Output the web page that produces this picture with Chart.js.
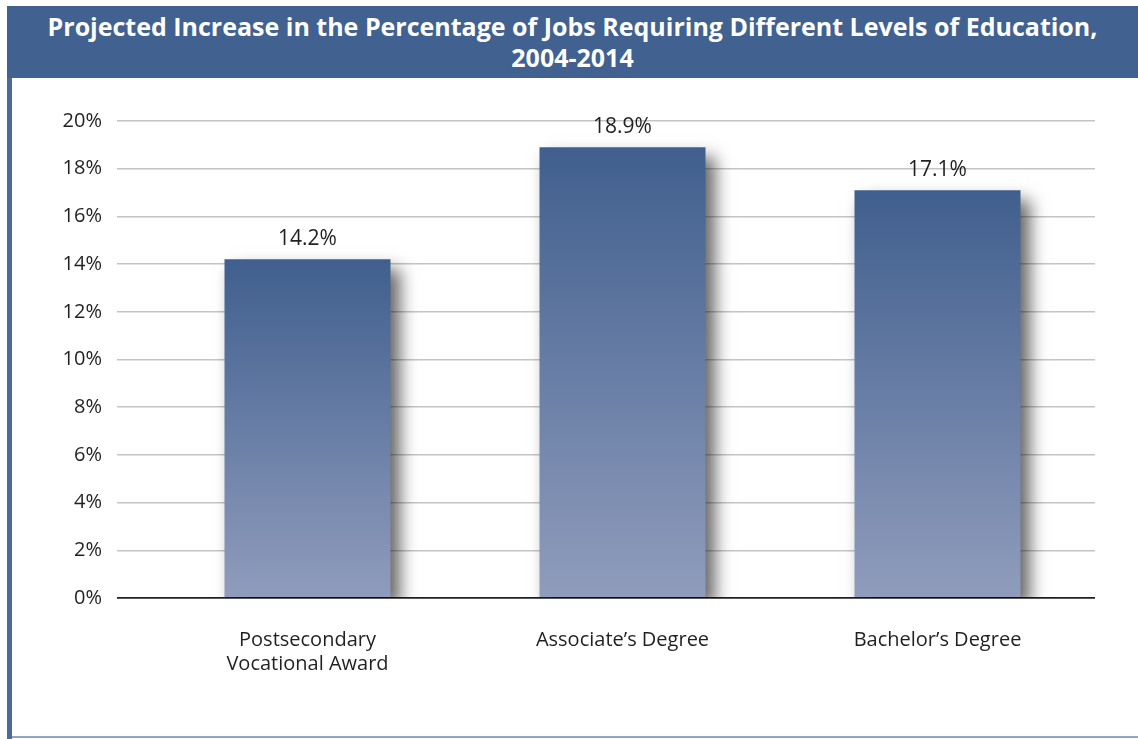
<!DOCTYPE html>
<html>
<head>
<meta charset="utf-8">
<script src="https://cdn.jsdelivr.net/npm/chart.js@4"></script>
<style>
  html, body { margin: 0; padding: 0; background: #fff; }
  #wrap { position: relative; width: 1138px; height: 739px; overflow: hidden; }
  #banner {
    position: absolute; left: 7px; top: 6px; width: 1131px; height: 72px;
    background: #416190; color: #fff;
    font: 700 25px "Open Sans", sans-serif; line-height: 31px;
    text-align: center; box-sizing: border-box; padding: 5px 0 0 0; white-space: nowrap;
  }
  #sideLine { position: absolute; left: 7px; top: 78px; width: 5px; height: 661px; background: #4b6b9b; }
  #baseLine { position: absolute; left: 12px; top: 736px; width: 1126px; height: 2px; background: #8ea6c8; }
  #chart { position: absolute; left: 0; top: 0; }
</style>
</head>
<body>
<div id="wrap">
  <div id="banner">Projected Increase in the Percentage of Jobs Requiring Different Levels of Education,<br>2004-2014</div>
  <div id="sideLine"></div>
  <div id="baseLine"></div>
  <canvas id="chart" width="1138" height="739"></canvas>
</div>
<script>
// 학위별 일자리 증가율 (%)
let categories = [['Postsecondary', 'Vocational Award'], "Associate\u2019s Degree", "Bachelor\u2019s Degree"];
let increases = [14.2, 18.9, 17.1];
let yTicks = [0, 2, 4, 6, 8, 10, 12, 14, 16, 18, 20];

const textFont = '"Open Sans", sans-serif';

// 막대마다 위(진한 파랑) -> 아래(연한 파랑) 그라데이션
function barGradient(context) {
	let chart = context.chart;
	let y = chart.scales.y;
	if (!chart.chartArea || !y || context.parsed === undefined) return '#5a7199';
	let top = y.getPixelForValue(context.parsed.y);
	let bottom = y.getPixelForValue(0);
	if (!isFinite(top) || !isFinite(bottom) || top === bottom) return '#5a7199';
	let g = chart.ctx.createLinearGradient(0, top, 0, bottom);
	g.addColorStop(0, '#405f8e');
	g.addColorStop(1, '#909cbc');
	return g;
}

// 막대 그림자
const barShadow = {
	id: 'barShadow',
	beforeDatasetDraw(chart) {
		let ctx = chart.ctx;
		ctx.save();
		ctx.shadowColor = 'rgba(0,0,0,0.6)';
		ctx.shadowBlur = 16;
		ctx.shadowOffsetX = 9;
		ctx.shadowOffsetY = 10;
	},
	afterDatasetDraw(chart) {
		chart.ctx.restore();
	}
};

// 막대 위 값 표시
const valueLabels = {
	id: 'valueLabels',
	afterDatasetsDraw(chart) {
		let ctx = chart.ctx;
		let meta = chart.getDatasetMeta(0);
		ctx.save();
		ctx.font = '21px ' + textFont;
		ctx.fillStyle = '#231f20';
		ctx.textAlign = 'center';
		ctx.textBaseline = 'middle';
		meta.data.forEach(function(bar, i) {
			ctx.fillText(increases[i].toFixed(1) + '%', bar.x, bar.y - 20);
		});
		ctx.restore();
	}
};

new Chart(document.getElementById('chart'), {
	type: 'bar',
	data: {
		labels: categories,
		datasets: [{
			data: increases,
			backgroundColor: barGradient,
			borderWidth: 0,
			categoryPercentage: 1,
			barPercentage: 0.527
		}]
	},
	options: {
		responsive: false,
		animation: false,
		layout: { padding: { left: 12, right: 43, top: 121, bottom: 3 } },
		plugins: {
			legend: { display: false },
			tooltip: { enabled: false }
		},
		scales: {
			x: {
				grid: { display: false, drawTicks: false },
				border: { display: false },
				ticks: {
					padding: 30,
					color: '#231f20',
					font: { family: textFont, size: 20, lineHeight: 1.2 },
					maxRotation: 0
				},
				afterFit(scale) { scale.height = 138; }
			},
			y: {
				min: 0,
				max: 20,
				afterBuildTicks(scale) {
					scale.ticks = yTicks.map(v => ({ value: v }));
				},
				grid: {
					color: ctx => (ctx.tick && ctx.tick.value === 0 ? '#231f20' : '#c4c4c4'),
					lineWidth: ctx => (ctx.tick && ctx.tick.value === 0 ? 1.8 : 1.6),
					tickLength: 33,
					drawTicks: true
				},
				border: { display: false },
				ticks: {
					padding: 15,
					color: '#231f20',
					font: { family: textFont, size: 20 },
					callback: v => v + '%'
				},
				afterFit(scale) { scale.width = 138; }
			}
		}
	},
	plugins: [barShadow, valueLabels]
});
</script>
</body>
</html>
